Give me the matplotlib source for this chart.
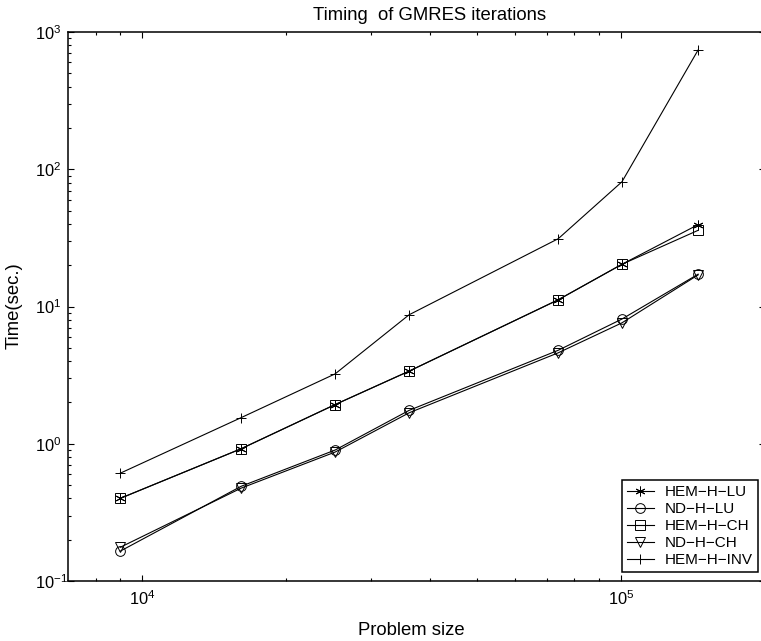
import matplotlib
matplotlib.use('Agg')
import matplotlib.pyplot as plt
from matplotlib.ticker import FixedLocator, NullFormatter, LogFormatterSciNotation

plt.rcParams['font.family'] = ['Liberation Sans', 'DejaVu Sans']
plt.rcParams['mathtext.default'] = 'regular'

# ---- data ----
problem_size = [9000, 16100, 25300, 36100, 74000, 100500, 145000]
hem_h_lu  = [0.40, 0.92, 1.93, 3.38, 11.2, 20.3, 39.5]
nd_h_lu   = [0.165, 0.49, 0.90, 1.75, 4.8, 8.1, 17.2]
hem_h_ch  = [0.40, 0.92, 1.93, 3.38, 11.2, 20.3, 35.9]
nd_h_ch   = [0.176, 0.475, 0.87, 1.68, 4.6, 7.6, 17.0]
hem_h_inv = [0.61, 1.55, 3.23, 8.7, 31.2, 81.0, 740.0]

labels = ['HEM\u2212H\u2212LU', 'ND\u2212H\u2212LU', 'HEM\u2212H\u2212CH',
          'ND\u2212H\u2212CH', 'HEM\u2212H\u2212INV']
title = 'Timing  of GMRES iterations'
xlabel = 'Problem size'
ylabel = 'Time(sec.)'

W, H = 761, 641
fig = plt.figure(figsize=(W / 100, H / 100), dpi=100)
L, R, T, B = 68, 765, 32, 581
ax = fig.add_axes([L / W, 1 - B / H, (R - L) / W, (B - T) / H])

series = [hem_h_lu, nd_h_lu, hem_h_ch, nd_h_ch, hem_h_inv]
markers = [(6, 2, 0), 'o', 's', 'v', '+']
for ys, m, lab in zip(series, markers, labels):
    ax.plot(problem_size, ys, color='black', linewidth=0.8, marker=m,
            markersize=7, markerfacecolor='none', markeredgecolor='black',
            markeredgewidth=0.7, label=lab)

ax.set_xscale('log')
ax.set_yscale('log')
ax.set_xlim(7000, 2e5)
ax.set_ylim(0.1, 1000)

ax.xaxis.set_major_locator(FixedLocator([1e4, 1e5]))
ax.xaxis.set_minor_locator(FixedLocator([8000, 9000] + [k * 1e4 for k in range(2, 10)] + [2e5]))
ax.yaxis.set_major_locator(FixedLocator([0.1, 1, 10, 100, 1000]))
ax.yaxis.set_minor_locator(FixedLocator([k * 10.0 ** e for e in range(-1, 3) for k in range(2, 10)]))
ax.xaxis.set_major_formatter(LogFormatterSciNotation())
ax.yaxis.set_major_formatter(LogFormatterSciNotation())
ax.xaxis.set_minor_formatter(NullFormatter())
ax.yaxis.set_minor_formatter(NullFormatter())

ax.tick_params(which='both', direction='in', top=True, right=True,
               labelsize=11.8, width=0.8, color='black')
ax.tick_params(which='major', length=4.3)
ax.tick_params(which='minor', length=2.2)
ax.tick_params(axis='x', which='major', pad=6)
ax.tick_params(axis='y', which='major', pad=23.5)
for t in ax.get_yticklabels():
    t.set_horizontalalignment('left')

for s in ax.spines.values():
    s.set_linewidth(1.1)
    s.set_color('black')

fig.text(430 / W, 1 - 20.5 / H, title, ha='center', va='baseline', fontsize=13.3)
fig.text(411.5 / W, 1 - 635 / H, xlabel, ha='center', va='baseline', fontsize=13.3)
fig.text(13.8 / W, 1 - 306 / H, ylabel, ha='center', va='center', rotation=90, fontsize=13.3)

leg = ax.legend(loc='lower right', bbox_to_anchor=(758 / W, 1 - 572 / H),
                bbox_transform=fig.transFigure, borderaxespad=0, fontsize=11,
                numpoints=1, handlelength=1.75, handletextpad=0.75, borderpad=0.32,
                labelspacing=0.2, fancybox=False, framealpha=1, edgecolor='black')
leg.get_frame().set_linewidth(1.1)

fig.savefig('out.png', dpi=100)
